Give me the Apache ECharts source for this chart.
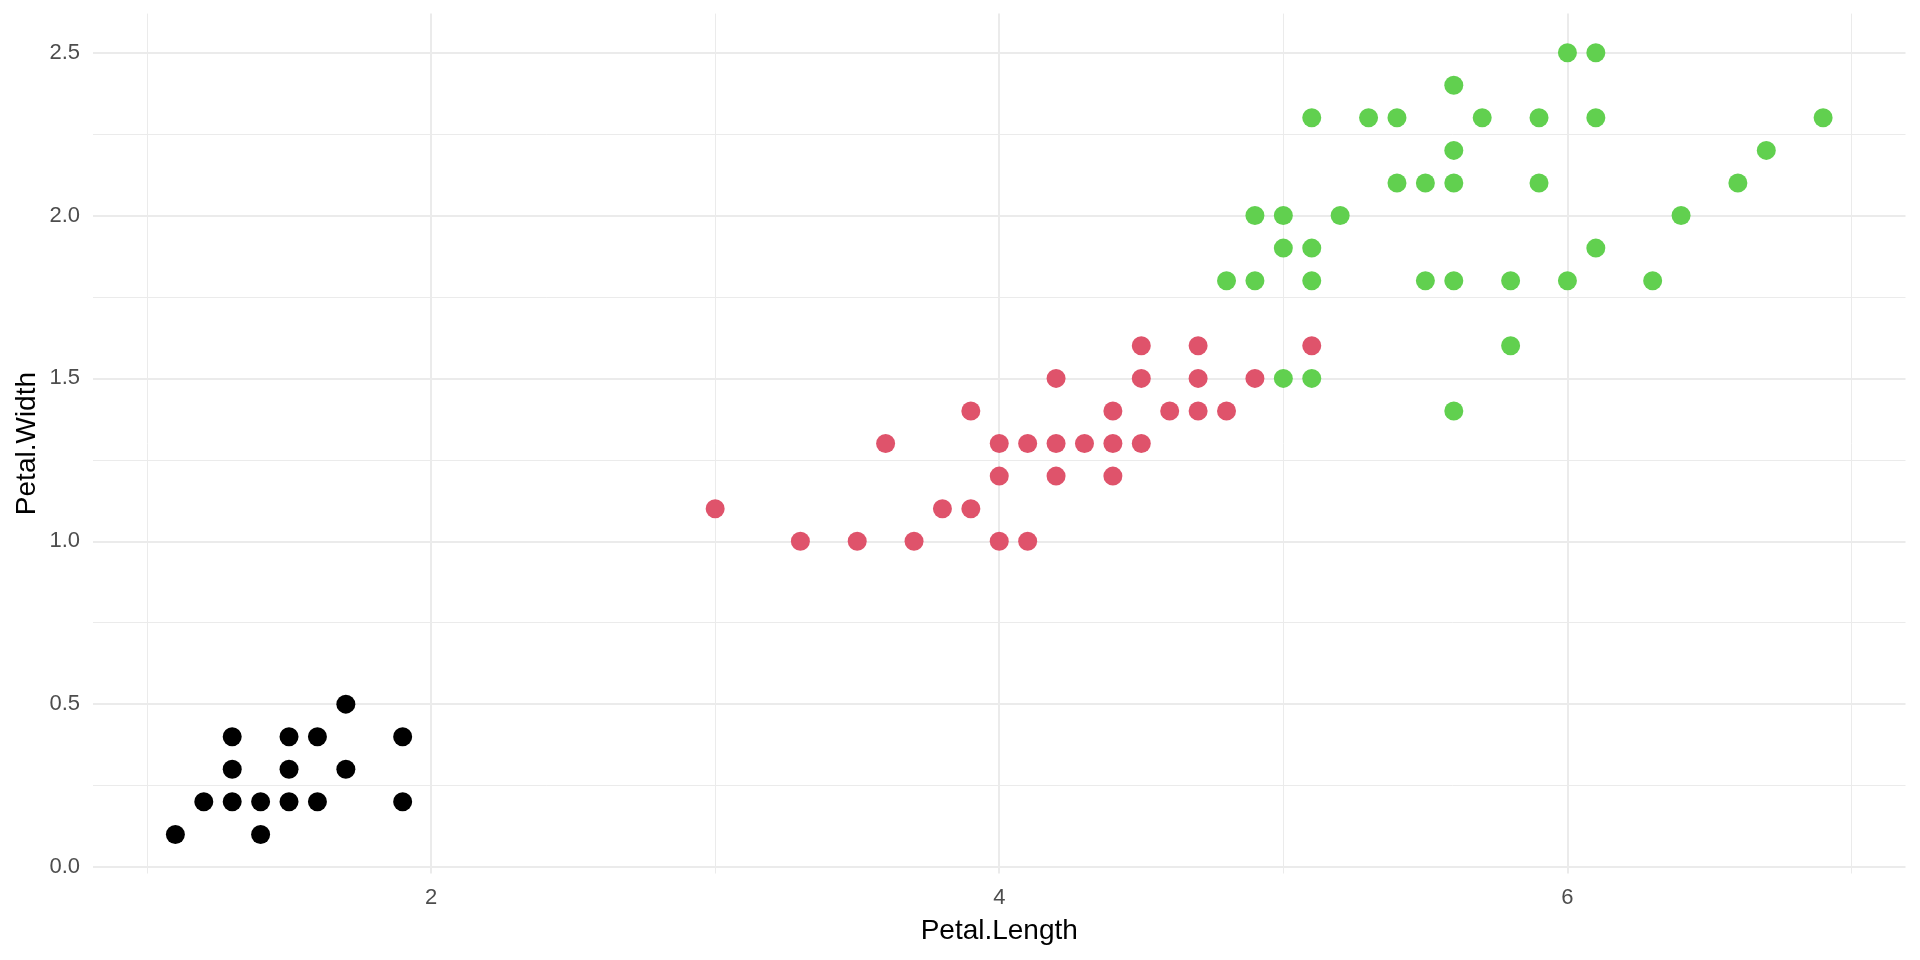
<!DOCTYPE html>
<html>
<head>
<meta charset="utf-8">
<script src="https://cdn.jsdelivr.net/npm/echarts@6/dist/echarts.min.js"></script>
<style>
html,body{margin:0;padding:0;background:#fff;}
#chart{width:1920px;height:960px;}
</style>
</head>
<body>
<div id="chart"></div>
<script>
// Data (Petal.Length, Petal.Width)
const setosaLength = [1.1,1.2,1.3,1.3,1.3,1.4,1.4,1.5,1.5,1.5,1.6,1.6,1.7,1.7,1.9,1.9];
const setosaWidth  = [0.1,0.2,0.2,0.3,0.4,0.2,0.1,0.2,0.3,0.4,0.2,0.4,0.5,0.3,0.4,0.2];

const versicolorLength = [3.0,3.3,3.5,3.6,3.7,3.8,3.9,3.9,4.0,4.0,4.0,4.1,4.1,4.2,4.2,4.2,4.3,4.4,4.4,4.4,4.5,4.5,4.5,4.6,4.7,4.7,4.7,4.8,4.9,5.1];
const versicolorWidth  = [1.1,1.0,1.0,1.3,1.0,1.1,1.1,1.4,1.0,1.2,1.3,1.0,1.3,1.5,1.3,1.2,1.3,1.4,1.3,1.2,1.6,1.5,1.3,1.4,1.6,1.5,1.4,1.4,1.5,1.6];

const virginicaLength = [4.8,4.9,4.9,5.0,5.0,5.0,5.1,5.1,5.1,5.1,5.2,5.3,5.4,5.4,5.5,5.5,5.6,5.6,5.6,5.6,5.6,5.7,5.8,5.8,5.9,5.9,6.0,6.0,6.1,6.1,6.1,6.3,6.4,6.6,6.7,6.9];
const virginicaWidth  = [1.8,1.8,2.0,2.0,1.9,1.5,2.3,1.9,1.8,1.5,2.0,2.3,2.3,2.1,2.1,1.8,2.4,2.2,2.1,1.8,1.4,2.3,1.8,1.6,2.3,2.1,2.5,1.8,2.5,2.3,1.9,1.8,2.0,2.1,2.2,2.3];

const xTicks = [2,4,6];
const xMinor = [1,3,5,7];
const yTicks = [0,0.5,1.0,1.5,2.0,2.5];
const yMinor = [0.25,0.75,1.25,1.75,2.25];
const xRange = [0.81, 7.19];
const yRange = [-0.02, 2.62];

function zip(a,b){ return a.map((v,i)=>[v,b[i]]); }

const gridColor = '#EBEBEB';
const gridLines = []
  .concat(xTicks.map(v=>({xAxis:v, lineStyle:{width:2}})))
  .concat(xMinor.map(v=>({xAxis:v, lineStyle:{width:1}})))
  .concat(yTicks.map(v=>({yAxis:v, lineStyle:{width:2}})))
  .concat(yMinor.map(v=>({yAxis:v, lineStyle:{width:1}})));

const font = '"Liberation Sans", Arial, sans-serif';
const chart = echarts.init(document.getElementById('chart'), null, {renderer:'canvas'});
chart.setOption({
  backgroundColor:'#ffffff',
  animation:false,
  grid:{left:93, right:14.5, top:13.6, bottom:86.5, containLabel:false},
  xAxis:{
    type:'value', min:xRange[0], max:xRange[1],
    name:'Petal.Length', nameLocation:'middle', nameGap:44, nameMoveOverlap:false,
    nameTextStyle:{color:'#000000', fontSize:28, fontFamily:font, lineHeight:28},
    axisLine:{show:false}, axisTick:{show:false}, splitLine:{show:false},
    axisLabel:{customValues:xTicks, color:'#4D4D4D', fontSize:22, fontFamily:font, margin:13,
      formatter:v=>String(v)}
  },
  yAxis:{
    type:'value', min:yRange[0], max:yRange[1],
    name:'Petal.Width', nameLocation:'middle', nameGap:52, nameRotate:90, nameMoveOverlap:false,
    nameTextStyle:{color:'#000000', fontSize:28, fontFamily:font, lineHeight:28},
    axisLine:{show:false}, axisTick:{show:false}, splitLine:{show:false},
    axisLabel:{customValues:yTicks, color:'#4D4D4D', fontSize:22, fontFamily:font, margin:13,
      formatter:v=>Number(v).toFixed(1)}
  },
  series:[
    {type:'scatter', data:[], z:0, silent:true,
     markLine:{silent:true, z:0, symbol:['none','none'], label:{show:false}, animation:false,
       lineStyle:{color:gridColor, type:'solid'}, data:gridLines}},
    {type:'scatter', name:'setosa', data:zip(setosaLength,setosaWidth), symbolSize:19,
     itemStyle:{color:'#000000', opacity:1}, z:10},
    {type:'scatter', name:'versicolor', data:zip(versicolorLength,versicolorWidth), symbolSize:19,
     itemStyle:{color:'#DF536B', opacity:1}, z:11},
    {type:'scatter', name:'virginica', data:zip(virginicaLength,virginicaWidth), symbolSize:19,
     itemStyle:{color:'#61D04F', opacity:1}, z:12}
  ]
});
</script>
</body>
</html>
